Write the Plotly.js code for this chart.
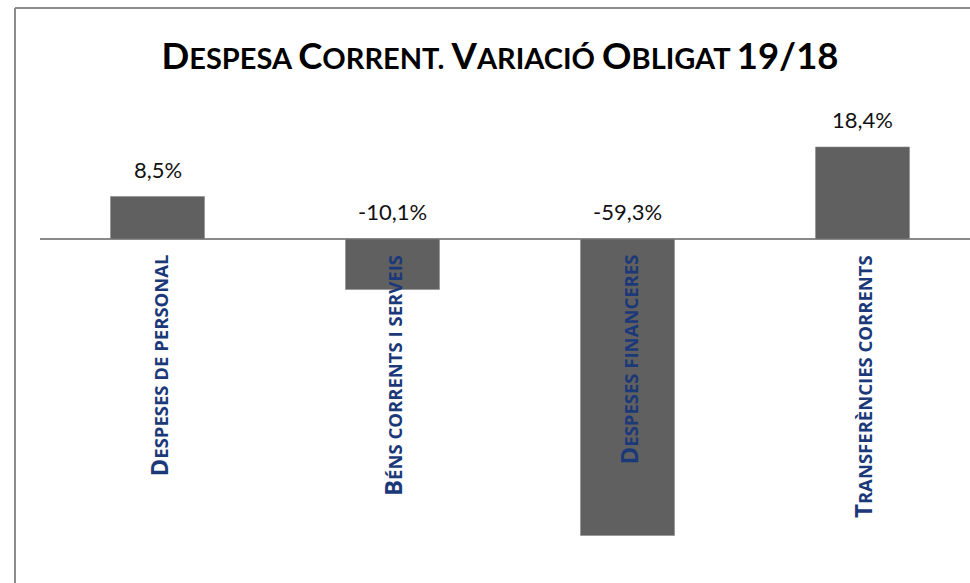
<!DOCTYPE html>
<html>
<head>
<meta charset="utf-8">
<script src="https://cdn.plot.ly/plotly-3.0.1.min.js"></script>
<style>html,body{margin:0;padding:0;background:#fff}</style>
</head>
<body>
<div id="chart" style="width:970px;height:583px"></div>
<script>
// Data
var categories = ["Despeses de personal", "Béns corrents i serveis", "Despeses financeres", "Transferències corrents"];
var values = [8.5, -10.1, -59.3, 18.4];
var chartTitle = "Despesa Corrent. Variació Obligat 19/18";

// small caps helper: letters typed in caps stay big, lowercase become small caps
function smallCaps(txt, big, small) {
  var out = "";
  var buf = "";
  var mode = null;
  function flush() {
    if (!buf) return;
    var sz = mode === "big" ? big : small;
    out += '<span style="font-size:' + sz + 'px;font-weight:bold">' + buf + '</span>';
    buf = "";
  }
  for (var i = 0; i < txt.length; i++) {
    var c = txt[i];
    var isLower = c !== c.toUpperCase();
    var m = isLower ? "small" : (c === " " || c === "." ? (mode || "big") : "big");
    if (m !== mode) { flush(); mode = m; }
    buf += c.toUpperCase();
  }
  flush();
  return "<b>" + out + "</b>";
}

var fontFam = "Lato, 'Open Sans', sans-serif";

var trace = {
  type: "bar",
  x: [0, 1, 2, 3],
  y: values,
  width: 0.4,
  marker: { color: "#606060", line: { color: "#8c8c8c", width: 0.6 } },
  hoverinfo: "skip"
};

var annotations = [];
values.forEach(function (v, i) {
  annotations.push({
    x: i, y: Math.max(v, 0), xref: "x", yref: "y",
    text: v.toFixed(1).replace(".", ",") + "%",
    showarrow: false, yanchor: "bottom", xanchor: "center", yshift: 12,
    font: { family: fontFam, size: 22, color: "#111111" }
  });
  annotations.push({
    x: i, y: 0, xref: "x", yref: "y",
    text: smallCaps(categories[i], 24, 18.5),
    textangle: -90,
    showarrow: false, yanchor: "top", xanchor: "center", yshift: -14,
    font: { family: "'Open Sans', sans-serif", size: 18.5, weight: "bold", color: "#1b3878" }
  });
});

var layout = {
  width: 970, height: 583,
  margin: { l: 40, r: 0, t: 0, b: 0 },
  paper_bgcolor: "#ffffff", plot_bgcolor: "rgba(0,0,0,0)",
  showlegend: false,
  title: {
    text: smallCaps(chartTitle, 36.5, 29),
    font: { family: fontFam, size: 36.5, weight: "bold", color: "#000000" },
    xref: "container", yref: "container",
    x: 500 / 970, xanchor: "center",
    y: 1 - 56 / 583, yanchor: "middle"
  },
  xaxis: {
    range: [-0.5, (970 - 157.5) / 235],
    showticklabels: false, showgrid: false, zeroline: false, showline: false, ticks: "",
    fixedrange: true
  },
  yaxis: {
    range: [-(583 - 239) / 5, 239 / 5],
    showticklabels: false, showgrid: false, ticks: "",
    zeroline: true, zerolinecolor: "#8a8a8a", zerolinewidth: 2,
    showline: false, fixedrange: true
  },
  annotations: annotations,
  shapes: [
    { type: "line", xref: "paper", yref: "paper",
      x0: (15 - 40) / 930, x1: (15 - 40) / 930, y0: -0.1, y1: 1 - 8 / 583,
      line: { color: "#8c8c8c", width: 2 } },
    { type: "line", xref: "paper", yref: "paper",
      x0: (15 - 40) / 930, x1: 1.1, y0: 1 - 8 / 583, y1: 1 - 8 / 583,
      line: { color: "#8c8c8c", width: 2 } }
  ]
};

Plotly.newPlot("chart", [trace], layout, { staticPlot: true, displayModeBar: false });
</script>
</body>
</html>
